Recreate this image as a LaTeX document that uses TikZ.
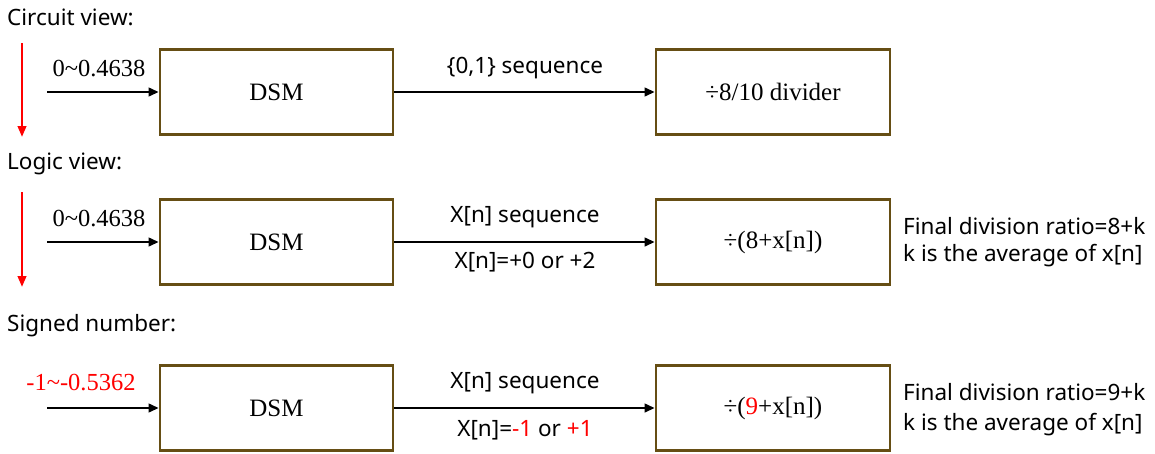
\documentclass[tikz,border=0pt]{standalone}
\usepackage{fontspec}
\setmainfont{Liberation Serif}
\newfontfamily\labfont{Noto Sans}
\usetikzlibrary{arrows.meta}
\definecolor{boxc}{RGB}{102,78,20}
\definecolor{redc}{RGB}{255,0,0}
\begin{document}
\begin{tikzpicture}[x=1pt,y=-1pt,
  blk/.style={draw=boxc, line width=2.6pt, minimum height=85pt, inner sep=0pt,
    font=\fontsize{25}{29}\selectfont},
  dsm/.style={blk, minimum width=233pt},
  div/.style={blk, minimum width=234pt},
  flow/.style={draw=black, line width=2.3pt, -{Triangle[length=10pt,width=8.5pt]}},
  redarrow/.style={draw=redc, line width=2.3pt, -{Triangle[length=11pt,width=8.5pt]}},
  head/.style={anchor=west, inner sep=0pt, font=\labfont\fontsize{22.5}{26}\selectfont},
  seqlab/.style={inner sep=0pt, font=\labfont\fontsize{22.5}{26}\selectfont},
  note/.style={anchor=west, inner sep=0pt, font=\labfont\fontsize{22.5}{26}\selectfont},
  inlab/.style={inner sep=0pt, font=\fontsize{24.5}{28}\selectfont}
]
\useasboundingbox (0,0) rectangle (1155,453);

% headings
\node[head] (h1) at (7,17) {Circuit view:};
\node[head] (h2) at (7,164) {Logic view:};
\node[head] (h3) at (7,326) {Signed number:};

% red arrows
\coordinate (r1a) at (22,43);
\coordinate (r1b) at (22,137);
\coordinate (r2a) at (22,192);
\coordinate (r2b) at (22,287);
\draw[redarrow] (r1a) -- (r1b);
\draw[redarrow] (r2a) -- (r2b);

% row 1
\node[dsm] (d1) at (276.5,92) {DSM};
\node[div] (v1) at (773,92) {\char"00F7 8/10 divider};
\coordinate (i1) at (47,92);
\draw[flow] (i1) -- (d1.west);
\draw[flow] (d1.east) -- (d1.east -| v1.west);
\node[inlab] (l1) at (99,69) {0\textasciitilde 0.4638};
\node[seqlab] (s1) at (525,68) {\{0,1\} sequence};

% row 2
\node[dsm] (d2) at (276.5,242) {DSM};
\node[div] (v2) at (773,242) {\char"00F7(8+x[n])};
\coordinate (i2) at (47,242);
\draw[flow] (i2) -- (d2.west);
\draw[flow] (d2.east) -- (d2.east -| v2.west);
\node[inlab] (l2) at (99,219) {0\textasciitilde 0.4638};
\node[seqlab] (s2) at (525,217) {X[n] sequence};
\node[seqlab] (t2) at (525,262) {X[n]=+0 or +2};
\node[note] (n2a) at (903,226) {Final division ratio=8+k};
\node[note] (n2b) at (903,256) {k is the average of x[n]};

% row 3
\node[dsm] (d3) at (276.5,408) {DSM};
\node[div] (v3) at (773,408) {\char"00F7(\textcolor{redc}{9}+x[n])};
\coordinate (i3) at (47,408);
\draw[flow] (i3) -- (d3.west);
\draw[flow] (d3.east) -- (d3.east -| v3.west);
\node[inlab, text=redc] (l3) at (81,383) {-1\textasciitilde-0.5362};
\node[seqlab] (s3) at (525,383) {X[n] sequence};
\node[seqlab] (t3) at (525,430) {X[n]=\textcolor{redc}{-1} or \textcolor{redc}{+1}};
\node[note] (n3a) at (903,392) {Final division ratio=9+k};
\node[note] (n3b) at (903,425) {k is the average of x[n]};
\end{tikzpicture}
\end{document}
